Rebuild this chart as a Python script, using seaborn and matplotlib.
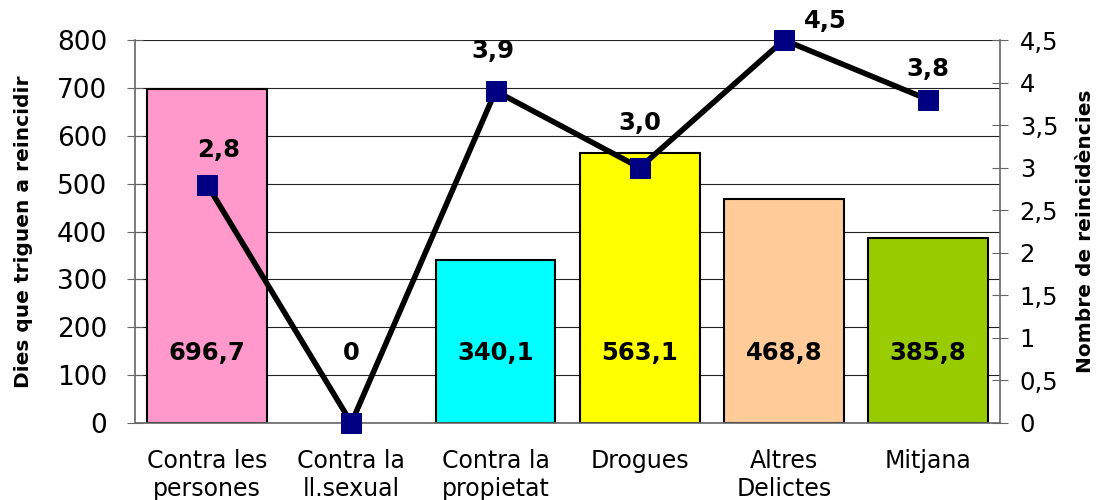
import matplotlib
matplotlib.use("Agg")
import matplotlib.pyplot as plt
import seaborn as sns
import numpy as np
import pandas as pd

# ── Data ──
categories = ["Contra les\npersones", "Contra la\nll.sexual", "Contra la\npropietat",
              "Drogues", "Altres\nDelictes", "Mitjana"]
dies = [696.7, 0, 340.1, 563.1, 468.8, 385.8]
dies_labels = ["696,7", "0", "340,1", "563,1", "468,8", "385,8"]
reincid = [2.8, 0, 3.9, 3.0, 4.5, 3.8]
reincid_labels = ["2,8", "", "3,9", "3,0", "4,5", "3,8"]
colors = ["#FF99CC", "#FFFFFF", "#00FFFF", "#FFFF00", "#FFCC99", "#99CC00"]
left_ticks = [0, 100, 200, 300, 400, 500, 600, 700, 800]
right_ticks = [0, 0.5, 1, 1.5, 2, 2.5, 3, 3.5, 4, 4.5]
right_ticklabels = ["0", "0,5", "1", "1,5", "2", "2,5", "3", "3,5", "4", "4,5"]

# label offsets (points) for the line labels
label_offsets = [(8, 25), (0, 0), (-2, 29), (0, 32), (30, 14), (0, 22)]

sns.set_style("white")
plt.rcParams["font.family"] = ["DejaVu Sans"]
plt.rcParams["text.color"] = "black"
plt.rcParams["axes.labelcolor"] = "black"
plt.rcParams["xtick.color"] = "black"
plt.rcParams["ytick.color"] = "black"

df = pd.DataFrame({"cat": categories, "dies": dies, "reincid": reincid,
                   "pos": np.arange(len(categories))})

fig, ax = plt.subplots(figsize=(10.98, 5), dpi=100)
fig.subplots_adjust(left=0.123, right=0.911, top=0.92, bottom=0.154)

sns.barplot(data=df, x="cat", y="dies", hue="cat", palette=colors, legend=False,
            width=0.83, edgecolor="black", linewidth=1.5, saturation=1, ax=ax)
for p in ax.patches:
    if p.get_height() == 0:
        p.set_visible(False)

ax.set_xlim(-0.5, len(categories) - 0.5)
ax.set_ylim(0, 800)
ax.set_yticks(left_ticks)
ax.set_yticklabels([str(t) for t in left_ticks], fontsize=19)
ax.yaxis.grid(True, color="#222222", linewidth=0.8)
ax.set_axisbelow(True)
ax.set_xlabel("")
ax.set_ylabel("Dies que triguen a reincidir", fontsize=14.5, fontweight="bold", labelpad=17)
ax.set_xticks(np.arange(-0.5, len(categories), 1), minor=False)
ax.set_xticklabels([])
ax.set_xticks(np.arange(len(categories)), minor=True)
ax.set_xticklabels(categories, minor=True, fontsize=17, linespacing=1.2)
ax.tick_params(axis="x", which="major", length=12, direction="inout", colors="#666666")
ax.tick_params(axis="x", which="minor", length=0, pad=19, labelcolor="black")
ax.tick_params(axis="y", length=12, direction="inout", color="#666666", labelcolor="black", pad=14)
for s in ["top", "right"]:
    ax.spines[s].set_visible(False)
ax.spines["left"].set_color("#666666")
ax.spines["bottom"].set_color("#666666")
ax.spines["left"].set_linewidth(1.2)
ax.spines["bottom"].set_linewidth(1.2)

for i, lab in enumerate(dies_labels):
    ax.text(i, 146, lab, ha="center", va="center", fontsize=17.5, fontweight="bold")

ax2 = ax.twinx()
sns.lineplot(data=df, x="pos", y="reincid", color="black", linewidth=4,
             marker="s", markersize=14.5, markerfacecolor="#000080",
             markeredgecolor="#000080", ax=ax2, clip_on=False, zorder=5)
ax2.set_ylim(0, 4.5)
ax2.set_yticks(right_ticks)
ax2.set_yticklabels(right_ticklabels, fontsize=17.5)
ax2.set_ylabel("Nombre de reincidències", fontsize=14.5, fontweight="bold", labelpad=13)
ax2.set_xlabel("")
ax2.tick_params(axis="y", length=12, direction="inout", color="#666666", labelcolor="black", pad=8)
for s in ["top", "left", "bottom"]:
    ax2.spines[s].set_visible(False)
ax2.spines["right"].set_color("#666666")
ax2.spines["right"].set_linewidth(1.2)
ax2.set_xlim(-0.5, len(categories) - 0.5)

for i, lab in enumerate(reincid_labels):
    if lab:
        ax2.annotate(lab, (i, reincid[i]), xytext=label_offsets[i],
                     textcoords="offset points", ha="center", va="center",
                     fontsize=17.5, fontweight="bold", annotation_clip=False)

fig.savefig("out.png", dpi=100)
